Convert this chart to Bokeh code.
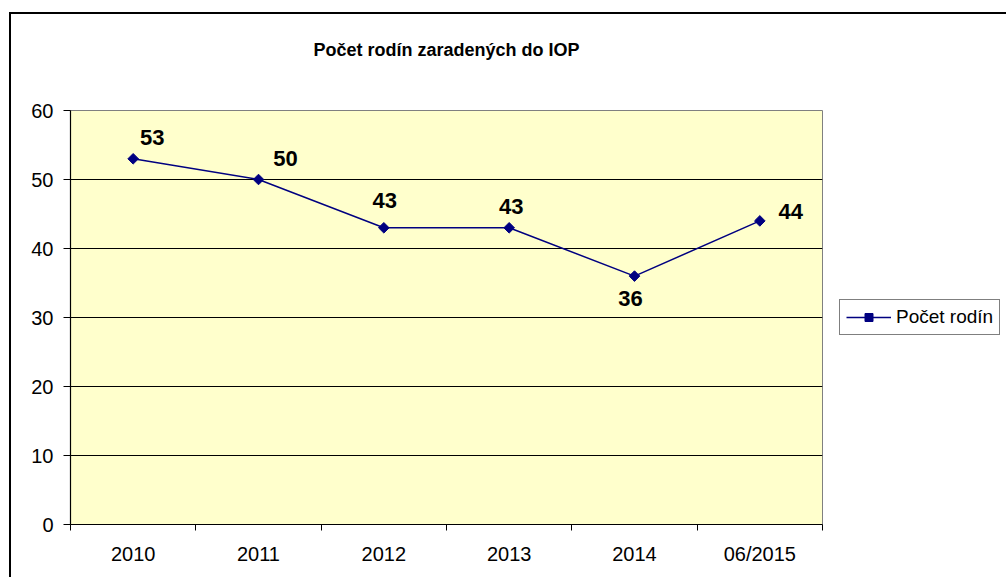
import numpy as np
from bokeh.plotting import figure
from bokeh.models import (ColumnDataSource, FixedTicker, Legend, LegendItem, Range1d, Title)
from bokeh.embed import file_html
from bokeh.resources import INLINE
from bokeh.core.properties import value

# ---- data ----
categories = ["2010", "2011", "2012", "2013", "2014", "06/2015"]
counts = [53, 50, 43, 43, 36, 44]
y_ticks = [0, 10, 20, 30, 40, 50, 60]
title_text = "Počet rodín zaradených do IOP"
series_name = "Počet rodín"

# ---- label placement (screen px offsets, style only) ----
label_dx = [19, 27, 1, 2, -4, 31]
label_dy = [-21, -21, -27, -21, 22, -9]

FONT = "Liberation Sans"

xpos = [i + 0.5 for i in range(len(categories))]
src = ColumnDataSource(dict(x=xpos, y=counts, lbl=[str(c) for c in counts],
                            dx=label_dx, dy=label_dy))

p = figure(frame_width=752, frame_height=414, output_backend="svg", toolbar_location=None,
           x_range=Range1d(0, len(categories)), y_range=Range1d(0, 60),
           min_border_left=59, min_border_right=190, min_border_top=96,
           min_border_bottom=56, title=None)
p.margin = (14, 0, 0, 11)
p.styles = {"box-shadow": "-2px -2px 0px 0px black"}
p.background_fill_color = "#FFFFCC"
p.border_fill_color = "white"
p.outline_line_color = "#808080"
p.outline_line_width = 1

# spacer between frame and title, then the title itself
p.add_layout(Title(text=" ", text_font=FONT, text_font_size="10px", standoff=17), "above")
p.add_layout(Title(text=title_text, align="center", text_font=FONT, text_font_style="bold",
                   text_font_size="18px", text_color="black", standoff=42), "above")

# axes
p.xaxis.ticker = FixedTicker(ticks=xpos, minor_ticks=list(range(len(categories) + 1)))
p.xaxis.major_label_overrides = {x: c for x, c in zip(xpos, categories)}
p.xaxis.major_tick_out = 0
p.xaxis.major_tick_in = 0
p.xaxis.minor_tick_out = 6
p.xaxis.minor_tick_in = 0
p.xaxis.minor_tick_line_color = "black"
p.xaxis.major_label_standoff = 12
p.yaxis.ticker = FixedTicker(ticks=y_ticks)
p.yaxis.major_tick_out = 7
p.yaxis.major_tick_in = 0
p.yaxis.minor_tick_line_color = None
p.yaxis.major_label_standoff = 10
for ax in (p.xaxis, p.yaxis):
    ax.axis_line_color = "black"
    ax.axis_line_width = 1.2
    ax.major_tick_line_color = "black"
    ax.major_label_text_font = FONT
    ax.major_label_text_font_size = "20px"
    ax.major_label_text_color = "black"

p.xgrid.grid_line_color = None
p.ygrid.ticker = FixedTicker(ticks=[10, 20, 30, 40, 50])
p.ygrid.grid_line_color = "black"
p.ygrid.grid_line_width = 1

# series
line_r = p.line("x", "y", source=src, line_color="#000080", line_width=1.5)
mark_r = p.scatter("x", "y", source=src, marker="square", angle=np.pi / 4, size=7.5,
                   fill_color="#000080", line_color="#000080")

p.text("x", "y", text="lbl", source=src, x_offset="dx", y_offset="dy",
       text_align="center", text_baseline="middle",
       text_font=value(FONT), text_font_style="bold", text_font_size="22px",
       text_color="black")

# legend in the right-hand panel
legend = Legend(items=[LegendItem(label=series_name, renderers=[line_r, mark_r])],
                location="center_left", orientation="vertical",
                border_line_color="black", border_line_width=1,
                background_fill_color="white", background_fill_alpha=1,
                padding=6, margin=17, glyph_width=45, glyph_height=20,
                label_height=20, label_standoff=5,
                label_text_font=FONT, label_text_font_size="19px",
                label_text_color="black")
p.add_layout(legend, "right")

open("out.html", "w").write(file_html(p, INLINE))
